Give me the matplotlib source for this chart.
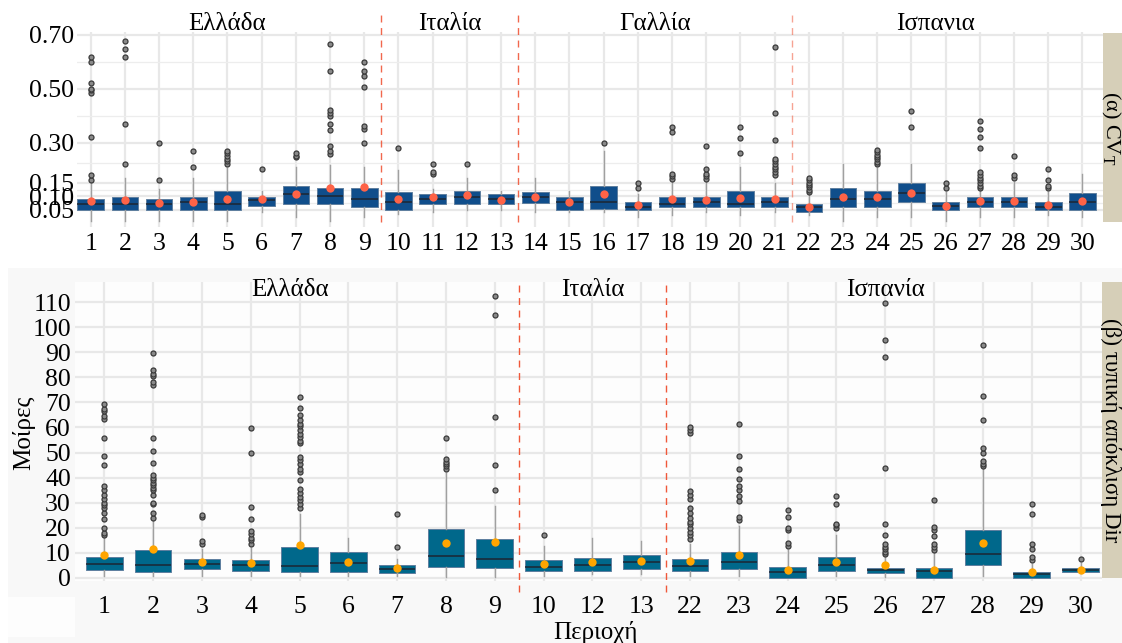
import matplotlib
matplotlib.use("Agg")
import matplotlib.pyplot as plt
import matplotlib.transforms as mtransforms
from matplotlib.patches import Rectangle

plt.rcParams['font.family'] = ['Liberation Serif', 'DejaVu Serif']
plt.rcParams['mathtext.fontset'] = 'custom'
plt.rcParams['mathtext.rm'] = 'Liberation Serif'
plt.rcParams['mathtext.it'] = 'Liberation Serif:italic'

# ---- (a) CV_T per region -------------------------------------------------
cv_regions = [str(i) for i in range(1, 31)]
cv_q1 = [0.049, 0.049, 0.049, 0.049, 0.049, 0.064, 0.071, 0.071, 0.060, 0.049,
         0.072, 0.071, 0.071, 0.074, 0.049, 0.052, 0.049, 0.060, 0.060, 0.059,
         0.060, 0.041, 0.060, 0.060, 0.080, 0.049, 0.060, 0.060, 0.049, 0.049]
cv_med = [0.071, 0.071, 0.071, 0.080, 0.071, 0.087, 0.108, 0.103, 0.090, 0.078,
          0.090, 0.097, 0.090, 0.096, 0.080, 0.080, 0.062, 0.072, 0.080, 0.071,
          0.080, 0.060, 0.090, 0.090, 0.114, 0.064, 0.080, 0.080, 0.062, 0.078]
cv_q3 = [0.090, 0.099, 0.090, 0.099, 0.120, 0.099, 0.140, 0.130, 0.130, 0.115,
         0.108, 0.120, 0.108, 0.115, 0.099, 0.140, 0.080, 0.099, 0.099, 0.120,
         0.099, 0.071, 0.130, 0.120, 0.149, 0.080, 0.099, 0.099, 0.080, 0.112]
cv_lo = [0.010, 0.010, 0.010, 0.010, 0.010, 0.041, 0.022, 0.010, 0.022, 0.035,
         0.041, 0.049, 0.050, 0.041, 0.040, 0.040, 0.022, 0.031, 0.041, 0.031,
         0.041, 0.031, 0.010, 0.022, 0.022, 0.010, 0.022, 0.022, 0.031, 0.022]
cv_hi = [0.150, 0.167, 0.128, 0.167, 0.204, 0.120, 0.210, 0.217, 0.210, 0.198,
         0.128, 0.170, 0.120, 0.170, 0.120, 0.270, 0.108, 0.155, 0.155, 0.210,
         0.151, 0.105, 0.219, 0.205, 0.219, 0.115, 0.125, 0.155, 0.117, 0.182]
cv_mean = [0.082, 0.087, 0.074, 0.080, 0.089, 0.091, 0.110, 0.132, 0.133, 0.091,
           0.097, 0.105, 0.088, 0.096, 0.078, 0.107, 0.069, 0.089, 0.087, 0.093,
           0.090, 0.062, 0.096, 0.096, 0.114, 0.063, 0.082, 0.082, 0.068, 0.082]
cv_out = [
    [0.161, 0.18, 0.32, 0.483, 0.496, 0.50, 0.52, 0.598, 0.618],
    [0.219, 0.369, 0.618, 0.648, 0.678],
    [0.160, 0.300],
    [0.210, 0.270],
    [0.22, 0.23, 0.24, 0.25, 0.26, 0.27],
    [0.200],
    [0.245, 0.251, 0.260],
    [0.259, 0.269, 0.288, 0.348, 0.369, 0.399, 0.41, 0.42, 0.567, 0.668],
    [0.300, 0.35, 0.36, 0.508, 0.548, 0.567, 0.598],
    [0.279],
    [0.182, 0.192, 0.219],
    [0.219],
    [],
    [],
    [],
    [0.300],
    [0.130, 0.151],
    [0.165, 0.174, 0.182, 0.34, 0.359],
    [0.165, 0.174, 0.182, 0.200, 0.288],
    [0.260, 0.318, 0.359],
    [0.18, 0.19, 0.20, 0.21, 0.22, 0.23, 0.24, 0.31, 0.409, 0.657],
    [0.117, 0.125, 0.133, 0.142, 0.151, 0.160, 0.170],
    [],
    [0.219, 0.228, 0.237, 0.246, 0.255, 0.263, 0.272],
    [0.359, 0.419],
    [0.130, 0.151],
    [0.13, 0.14, 0.15, 0.16, 0.17, 0.18, 0.19, 0.279, 0.320, 0.35, 0.380],
    [0.17, 0.18, 0.250],
    [0.13, 0.14, 0.16, 0.200],
    [],
]
cv_groups = ["Ελλάδα", "Ιταλία", "Γαλλία", "Ισπανια"]
cv_group_pos = [5, 11.5, 17.5, 25.7]
cv_splits = [9.5, 13.5, 21.5]
cv_yticks = [0.05, 0.10, 0.15, 0.30, 0.50, 0.70]

# ---- (b) Dir standard deviation per region -------------------------------
sd_regions = ["1", "2", "3", "4", "5", "6", "7", "8", "9", "10", "12", "13",
              "22", "23", "24", "25", "26", "27", "28", "29", "30"]
sd_q1 = [3.1, 2.3, 3.6, 2.9, 2.4, 2.4, 2.0, 4.4, 4.0, 2.9, 2.9, 3.6,
         2.9, 3.7, 0.0, 2.9, 1.9, 0.0, 5.0, 0.0, 2.3]
sd_med = [5.4, 5.0, 5.4, 5.1, 4.7, 6.0, 3.6, 8.7, 7.4, 4.3, 5.0, 6.4,
          4.7, 6.4, 2.3, 5.0, 3.1, 2.9, 9.6, 1.6, 3.3]
sd_q3 = [8.3, 11.0, 7.4, 7.3, 12.2, 10.4, 5.0, 19.6, 15.4, 7.3, 8.0, 9.1,
         7.4, 10.4, 4.5, 8.3, 4.1, 3.9, 19.2, 2.3, 4.1]
sd_lo = [0.7, 0.7, 0.7, 0.7, 0.7, 0.7, 0.7, 0.3, 0.3, 0.7, 1.4, 1.5,
         0.7, 0.7, 0.0, 0.7, 0.3, 0.0, 0.7, 0.0, 2.0]
sd_hi = [16, 22.7, 11.4, 12.0, 25.4, 16, 7.4, 42, 28.7, 12.7, 16, 14.7,
         13.4, 20.7, 11, 17, 8.5, 10, 44, 5.5, 6.0]
sd_mean = [9.0, 11.4, 6.3, 6.0, 13.1, 6.4, 4.0, 13.8, 14.3, 5.6, 6.2, 6.7,
           6.9, 9.0, 3.2, 6.3, 5.0, 3.1, 14.0, 2.5, 3.3]
sd_out = [
    [17, 18, 20, 23.5, 26, 28, 29, 30, 31.5, 33, 35, 36.5, 45, 48.5, 56,
     63.5, 64.5, 66.5, 67.5, 69.5],
    [24, 26, 29.5, 30, 33, 35, 36, 37, 38, 39, 40, 41, 46, 50.5, 56, 77, 78,
     80.5, 81.5, 83, 89.5],
    [13.6, 14.7, 24.2, 25.2],
    [13.6, 15, 16, 17.6, 18.7, 23.4, 28.4, 49.8, 59.9],
    [28.1, 29.4, 31.0, 32.4, 33.7, 35.4, 39.0, 42.1, 43.5, 45.4, 47.0, 48.1,
     53.7, 54.8, 56.1, 57.4, 58.8, 60.4, 61.4, 62.8, 64.8, 67.9, 72.2],
    [],
    [12.3, 25.4],
    [43.5, 44.5, 45.5, 46.3, 47.4, 55.7],
    [35, 45.2, 64.1, 104.9, 112.5],
    [17],
    [],
    [],
    [15.5, 17, 18.5, 20, 21.5, 22.5, 24, 26, 28, 31.5, 33, 34.5, 58, 59, 60],
    [23, 24.3, 30.7, 32.5, 35, 36.5, 39.6, 43.5, 48.7, 61.2],
    [12.8, 14.1, 19.1, 20.1, 24.3, 27],
    [20, 21, 21.7, 29.4, 32.6],
    [9.5, 10.5, 11.5, 12.5, 13.5, 17, 21.5, 44, 88, 95, 109.5],
    [11.3, 12.5, 13.4, 16.8, 19.1, 20.4, 31.0],
    [44.5, 45.5, 46.5, 50, 52, 63, 72.5, 93],
    [7, 8.3, 11.6, 13.4, 25.4, 29.4],
    [7.4],
]
sd_groups = ["Ελλάδα", "Ιταλία", "Ισπανία"]
sd_group_pos = [4.8, 11, 17]
sd_splits = [9.5, 12.5]
sd_yticks = list(range(0, 111, 10))

W, H = 1122, 643
fig = plt.figure(figsize=(W / 100, H / 100), dpi=100)
FS = 18.5


def px_rect(l, t, r, b):
    return [l / W, 1 - b / H, (r - l) / W, (b - t) / H]


def make_stats(q1, med, q3, lo, hi, mean, out):
    return [dict(q1=a, med=b, q3=c, whislo=d, whishi=e, mean=f, fliers=g)
            for a, b, c, d, e, f, g in zip(q1, med, q3, lo, hi, mean, out)]


def draw_boxes(ax, st, fill, mean_col, width):
    ax.bxp(st, positions=range(1, len(st) + 1), widths=width,
           patch_artist=True, showmeans=True, showcaps=False,
           boxprops=dict(facecolor=fill, edgecolor='#5f7f9f', linewidth=0.7),
           medianprops=dict(color='#1c2633', linewidth=1.1),
           whiskerprops=dict(color='#a0a0a0', linewidth=1.0),
           flierprops=dict(marker='o', markersize=3.6, markerfacecolor='#8a8a8a',
                           markeredgecolor='#3a3a3a', markeredgewidth=0.9),
           meanprops=dict(marker='o', markerfacecolor=mean_col,
                          markeredgecolor='none', markersize=6))


def style(ax):
    for s in ax.spines.values():
        s.set_visible(False)
    ax.set_axisbelow(True)
    ax.grid(which='major', color='#e8e8e8', linewidth=1.6)
    ax.grid(which='minor', axis='y', color='#ededed', linewidth=0.9)
    ax.tick_params(which='both', length=0, labelsize=FS)


# background of lower chart
fig.add_artist(Rectangle((8 / W, 0), 1 - 8 / W, 1 - 268 / H,
                         transform=fig.transFigure, facecolor='#f8f8f8',
                         edgecolor='none', zorder=-5))
fig.add_artist(Rectangle((8 / W, 6 / H), 67 / W, 40 / H,
                         transform=fig.transFigure, facecolor='#fdfdfd',
                         edgecolor='none', zorder=-4))

# ---------------- top panel ----------------
ax1 = fig.add_axes(px_rect(77, 32, 1103, 227))
draw_boxes(ax1, make_stats(cv_q1, cv_med, cv_q3, cv_lo, cv_hi, cv_mean, cv_out),
           '#104E8B', '#FF6347', 0.78)
style(ax1)
ax1.set_xlim(0.6, 30.6)
ax1.set_ylim(-0.014, 0.711)
ax1.set_xticks(range(1, 31))
ax1.set_xticklabels(cv_regions)
ax1.set_yticks(cv_yticks)
ax1.set_yticklabels(["%.2f" % v for v in cv_yticks])
ax1.set_yticks([0.075, 0.125, 0.225, 0.40, 0.60], minor=True)
ax1.tick_params(axis='x', pad=4)
ax1.tick_params(axis='y', pad=2)
for i, xs in enumerate(cv_splits):
    ax1.plot([xs, xs], [0.026, 1.09], transform=ax1.get_xaxis_transform(),
             color='#F0583A', linestyle=(0, (5, 4)), linewidth=1.0,
             alpha=0.55 if i == 2 else 0.9, clip_on=False)
tr1 = mtransforms.blended_transform_factory(ax1.transData, ax1.transAxes)
for name, xp in zip(cv_groups, cv_group_pos):
    ax1.text(xp, 1.04, name, transform=tr1, ha='center', va='center',
             fontsize=18)
fig.add_artist(Rectangle((1103 / W, 1 - 222 / H), 30 / W, 189 / H,
                         transform=fig.transFigure, facecolor='#d6cfb8',
                         edgecolor='none'))
fig.text(1111 / W, 1 - 128 / H, r'(α) CV$_{\mathrm{T}}$', rotation=270,
         ha='center', va='center', fontsize=16)

# ---------------- bottom panel ----------------
ax2 = fig.add_axes(px_rect(75, 282, 1102, 581))
ax2.set_facecolor('#fdfdfd')
draw_boxes(ax2, make_stats(sd_q1, sd_med, sd_q3, sd_lo, sd_hi, sd_mean, sd_out),
           '#00688B', '#FFA500', 0.75)
style(ax2)
ax2.grid(which='minor', visible=False)
ax2.set_xlim(0.4, 21.44)
ax2.set_ylim(-1.2, 118)
ax2.set_xticks(range(1, len(sd_regions) + 1))
ax2.set_xticklabels(sd_regions)
ax2.set_yticks(sd_yticks)
ax2.tick_params(axis='x', pad=11)
ax2.tick_params(axis='y', pad=3)
for xs in sd_splits:
    ax2.plot([xs, xs], [-0.037, 0.997], transform=ax2.get_xaxis_transform(),
             color='#F0583A', linestyle=(0, (5, 4)), linewidth=1.0,
             clip_on=False)
tr2 = mtransforms.blended_transform_factory(ax2.transData, ax2.transAxes)
for name, xp in zip(sd_groups, sd_group_pos):
    ax2.text(xp, 0.973, name, transform=tr2, ha='center', va='center',
             fontsize=18)
fig.add_artist(Rectangle((1102 / W, 1 - 578 / H), 30 / W, 296 / H,
                         transform=fig.transFigure, facecolor='#d6cfb8',
                         edgecolor='none'))
fig.text(1111 / W, 1 - 430 / H, '(β) τυπική απόκλιση Dir', rotation=270,
         ha='center', va='center', fontsize=16.5)

fig.text(24 / W, 1 - 433 / H, 'Μοίρες', rotation=90, ha='center',
         va='center', fontsize=18)
fig.text(595 / W, 1 - 632 / H, 'Περιοχή', ha='center', va='center',
         fontsize=18)

fig.savefig('out.png', dpi=100)
